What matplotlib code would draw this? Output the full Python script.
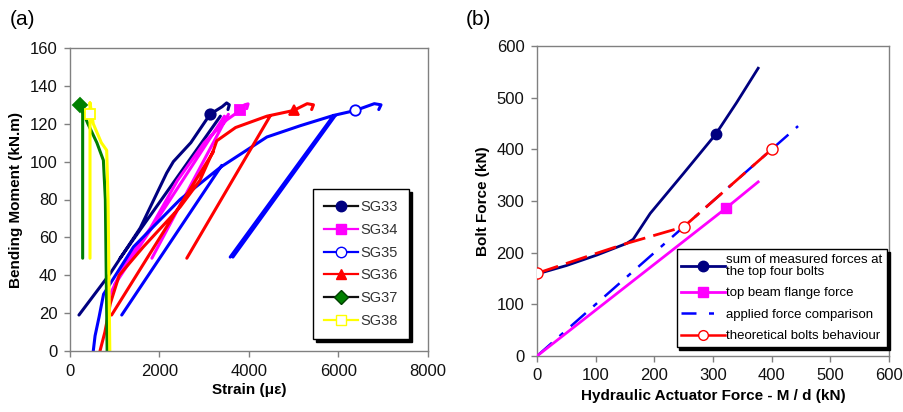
import numpy as np
import matplotlib
matplotlib.use("Agg")
import matplotlib.pyplot as plt
from matplotlib.lines import Line2D

plt.rcParams['font.family'] = ['Liberation Sans', 'DejaVu Sans']

nan = np.nan
# ---------------- Panel (a) data: strain (microstrain) vs bending moment (kN.m)
sg33_x = [200, 900, 1570, 2160, 2310, 2700, 3130, 3400, 3500, 3560, 3530, nan, 1120, 3360]
sg33_y = [19, 41, 65, 94, 100, 110, 125, 129, 131, 130, 127.5, nan, 49, 124]
sg33_mark = (3130, 125)

sg34_x = [850, 900, 1200, 1800, 2400, 3000, 3500, 3800, 3900, 3980, 3950, nan, 1830, 3540, nan, 1000, 3450]
sg34_y = [20, 30, 45, 65, 90, 110, 122, 127, 130, 130.5, 128, nan, 49, 125, nan, 35, 124]
sg34_mark = (3800, 127)

sg35_x = [520, 560, 650, 750, 1420, 2460, 3360, 4400, 5150, 5890, 6375, 6800, 6950, 6900,
          nan, 1156, 3390, nan, 3580, 5890, nan, 3640, 5930]
sg35_y = [0, 8, 18, 30, 55, 80, 97, 113, 119, 124.4, 127, 130.6, 130, 127.5,
          nan, 19, 98, nan, 49.6, 124.4, nan, 49.6, 124.4]
sg35_mark = (6375, 127)

sg36_x = [670, 780, 900, 1100, 1640, 2460, 2900, 3206, 3280, 3700, 4400, 4995, 5300, 5440, 5400,
          nan, 930, 3200, nan, 2610, 4470]
sg36_y = [0, 10, 25, 40, 55, 76, 90, 106, 111, 118, 124, 127, 130.6, 130, 127.5,
          nan, 19, 105, nan, 49, 124]
sg36_mark = (4995, 127)

sg37_x = [224, 400, 600, 746, 790, 810, 830, nan, 283, 283]
sg37_y = [130, 120, 110, 100.7, 80, 40, 0, nan, 130, 49]
sg37_mark = (224, 130)

sg38_x = [447, 520, 700, 820, 850, 870, 890, nan, 447, 447]
sg38_y = [131, 120, 110, 106, 80, 40, 0, nan, 131, 49]
sg38_mark = (447, 125)

sg_labels = ['SG33', 'SG34', 'SG35', 'SG36', 'SG37', 'SG38']

# ---------------- Panel (b) data: actuator force vs bolt force (kN)
meas_x = [0, 50, 102, 153, 164, 193, 249.5, 304.5, 340, 377]
meas_y = [158.7, 175, 195.4, 218, 226, 276, 353, 429, 490, 557]
meas_mark = 7

flange_x = [0, 322, 377]
flange_y = [0, 286, 337]
flange_mark = 1

applied_x = [0, 445]
applied_y = [0, 445]

theo_x = [0, 102, 153, 250, 400]
theo_y = [160, 199, 218, 250, 400]

b_labels = ['sum of measured forces at\nthe top four bolts', 'top beam flange force',
            'applied force comparison', 'theoretical bolts behaviour']

fig = plt.figure(figsize=(9.04, 4.12), dpi=100)
W, H = 904, 412

def add_ax(l, t, r, b):
    return fig.add_axes([l / W, 1 - b / H, (r - l) / W, (b - t) / H])

def style(ax):
    for s in ax.spines.values():
        s.set_color('#808080')
        s.set_linewidth(1.0)
    ax.tick_params(direction='out', length=4, width=1, color='#808080',
                   labelsize=12, pad=5, labelcolor='#111111')

# ---------------- Panel (a)
ax1 = add_ax(70, 48, 428, 351)
style(ax1)
lw = 2.2
series = [
    (sg33_x, sg33_y, sg33_mark, '#000080', 'o', '#000080'),
    (sg34_x, sg34_y, sg34_mark, '#FF00FF', 's', '#FF00FF'),
    (sg35_x, sg35_y, sg35_mark, '#0000FF', 'o', 'white'),
    (sg36_x, sg36_y, sg36_mark, '#FF0000', '^', '#FF0000'),
    (sg37_x, sg37_y, sg37_mark, '#008000', 'D', '#008000'),
    (sg38_x, sg38_y, sg38_mark, '#FFFF00', 's', 'white'),
]
handles = []
for (xs, ys, mk, col, m, mfc) in series:
    ax1.plot(xs, ys, color=col, lw=lw, solid_capstyle='round', zorder=2)
    ax1.plot([mk[0]], [mk[1]], marker=m, color=col, mfc=mfc, mec=col, ms=7.5,
             mew=1.3, ls='none', zorder=3)
for (xs, ys, mk, col, m, mfc), lab in zip(series, sg_labels):
    lc = '#101010' if lab in ('SG33', 'SG37') else col
    h, = ax1.plot([], [], color=lc, lw=1.6, marker=m, mfc=mfc,
                  mec=(col if lab != 'SG37' else '#004000'), ms=7.5, label=lab)
    handles.append(h)
ax1.set_xlim(0, 8000)
ax1.set_ylim(0, 160)
ax1.set_xticks(np.arange(0, 8001, 2000))
ax1.set_yticks(np.arange(0, 161, 20))
ax1.set_xlabel('Strain (με)', fontsize=11, fontweight='bold', labelpad=3)
ax1.set_ylabel('Bending Moment (kN.m)', fontsize=11, fontweight='bold', labelpad=5)
leg1 = ax1.legend(handles=handles, loc='lower right', bbox_to_anchor=(0.947, 0.04),
                  fontsize=10.5, frameon=True, fancybox=False, edgecolor='black',
                  shadow={'color': 'black', 'alpha': 1.0}, handlelength=2.3,
                  labelspacing=0.6, borderpad=0.75, handletextpad=0.2,
                  borderaxespad=0)
leg1.get_frame().set_linewidth(1.0)
for t in leg1.get_texts():
    t.set_color('#333333')

# ---------------- Panel (b)
ax2 = add_ax(537, 46, 889, 356)
style(ax2)
hm, = ax2.plot(meas_x, meas_y, color='#000080', lw=2.0, marker='o', ms=7.5,
               markevery=[meas_mark], label=b_labels[0], zorder=3)
hf, = ax2.plot(flange_x, flange_y, color='#FF00FF', lw=2.0, marker='s', ms=7.5,
               markevery=[flange_mark], label=b_labels[1], zorder=3)
ha, = ax2.plot(applied_x, applied_y, color='#0000FF', lw=1.8,
               dashes=(8, 4, 2, 4), label=b_labels[2], zorder=2)
ht, = ax2.plot(theo_x, theo_y, color='#FF0000', lw=2.0, dashes=(8, 3),
               marker='o', ms=8, mfc='white', mec='#FF0000', markevery=[0, 3, 4],
               label=b_labels[3], zorder=4)
ax2.set_xlim(0, 600)
ax2.set_ylim(0, 600)
ax2.set_xticks(np.arange(0, 601, 100))
ax2.set_yticks(np.arange(0, 601, 100))
ax2.set_xlabel('Hydraulic Actuator Force - M / d (kN)', fontsize=11, fontweight='bold', labelpad=4)
ax2.set_ylabel('Bolt Force (kN)', fontsize=11, fontweight='bold', labelpad=5)
la = Line2D([], [], color='#0000FF', lw=1.8, dashes=(6, 5, 2, 5))
lt = Line2D([], [], color='#FF0000', lw=1.8, marker='o', ms=7, mfc='white', mec='#FF0000')
leg2 = ax2.legend(handles=[hm, hf, la, lt], labels=b_labels, loc='lower right',
                  bbox_to_anchor=(0.994, 0.029), fontsize=9.5, frameon=True,
                  fancybox=False, edgecolor='black',
                  shadow={'color': 'black', 'alpha': 1.0}, handlelength=3.3,
                  labelspacing=0.7, borderpad=0.35, handletextpad=0.1,
                  borderaxespad=0)
leg2.get_frame().set_linewidth(1.0)
for t in leg2.get_texts():
    t.set_linespacing(1.0)

fig.text(10 / W, 1 - 10 / H, '(a)', fontsize=15, va='top', ha='left')
fig.text(466 / W, 1 - 10 / H, '(b)', fontsize=15, va='top', ha='left')

fig.savefig('out.png', dpi=100)
